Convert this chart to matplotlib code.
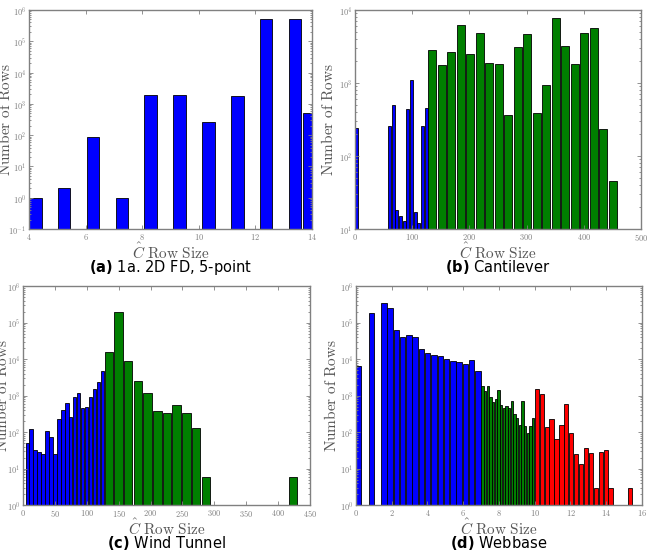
import numpy as np
import matplotlib
matplotlib.use("Agg")
import matplotlib.pyplot as plt
from matplotlib.ticker import FuncFormatter, LogLocator

plt.rcParams["mathtext.fontset"] = "cm"
plt.rcParams["font.family"] = ["DejaVu Serif"]

BLUE = "#0000FF"
GREEN = "#007F00"
RED = "#FF0000"
GRAY = "#808080"

# (a) 1a. 2D FD, 5-point : 20 bins over [4, 14.2]
a_bins = (4.0, 14.2, 20)
a_counts = [1, 0, 2, 0, 90, 0, 1, 0, 1900, 0, 1900, 0, 260, 0, 1730, 0, 5.3e5, 0, 5.3e5, 500]

# (b) Cantilever
b_blue_bins = (0.0, 128.0, 20)
b_blue = [244, 0, 0, 0, 0, 0, 0, 0, 0, 255, 493, 18, 15, 13, 440, 1106, 17, 12, 260, 449]
b_green_bins = (128.0, 460.0, 20)
b_green = [2870, 1790, 2670, 6300, 2480, 4900, 1890, 1850, 364, 3120,
           4650, 388, 945, 7690, 3190, 1830, 4900, 5730, 234, 45]

# (c) Wind Tunnel
c_blue_bins = (4.0, 128.0, 20)
c_blue = [49, 120, 33, 29, 25, 106, 75, 25, 229, 393,
          621, 260, 900, 1180, 445, 484, 940, 1514, 2390, 4740]
c_green_bins = (128.0, 432.0, 20)
c_green = [16000, 190000, 8700, 2450, 1150, 380, 325, 550, 340, 129,
           6, 0, 0, 0, 0, 0, 0, 0, 0, 6]

# (d) Webbase
d_blue_bins = (0.0, 7.02, 20)
d_blue = [6400, 0, 180000, 0, 350000, 255000, 62000, 40000, 47000, 40000,
          19000, 15000, 13000, 12300, 10000, 8700, 8300, 7100, 9400, 4700]
d_green_bins = (7.02, 10.0, 20)
d_green = [1800, 1350, 1800, 930, 650, 800, 1400, 550, 465, 525,
           445, 700, 320, 240, 160, 690, 150, 96, 146, 240]
d_red_bins = (10.0, 15.5, 20)
d_red = [1500, 1100, 140, 227, 63, 155, 573, 92, 25, 13,
         36, 27, 3, 29, 32, 3, 0, 0, 0, 3]

panels = [
    dict(pos=[0.0448, 0.5851, 0.4374, 0.3967], xlim=(4, 14), xticks=np.arange(4, 15, 2),
         ylim=(1e-1, 1e6), groups=[(a_bins, a_counts, BLUE)],
         caption=("(a)", "1a. 2D FD, 5-point"), ylab_px=16, cap_px=29),
    dict(pos=[0.5487, 0.5851, 0.4420, 0.3967], xlim=(0, 500), xticks=np.arange(0, 501, 100),
         ylim=(1e1, 1e4), groups=[(b_blue_bins, b_blue, BLUE), (b_green_bins, b_green, GREEN)],
         caption=("(b)", "Cantilever"), ylab_px=19, cap_px=29),
    dict(pos=[0.0355, 0.0851, 0.4436, 0.3967], xlim=(0, 450), xticks=np.arange(0, 451, 50),
         ylim=(1e0, 1e6), groups=[(c_blue_bins, c_blue, BLUE), (c_green_bins, c_green, GREEN)],
         caption=("(c)", "Wind Tunnel"), ylab_px=13, cap_px=29),
    dict(pos=[0.5502, 0.0851, 0.4420, 0.3967], xlim=(0, 16), xticks=np.arange(0, 17, 2),
         ylim=(1e0, 1e6), groups=[(d_blue_bins, d_blue, BLUE), (d_green_bins, d_green, GREEN),
                                  (d_red_bins, d_red, RED)],
         caption=("(d)", "Webbase"), ylab_px=17, cap_px=29),
]

W, H = 647, 552
fig = plt.figure(figsize=(W / 100, H / 100), dpi=100)

for p in panels:
    ax = fig.add_axes(p["pos"])
    for (lo, hi, n), counts, color in p["groups"]:
        counts = np.asarray(counts, dtype=float)
        w = (hi - lo) / n
        left = lo + w * np.arange(n)
        keep = counts > 0
        ax.bar(left[keep], counts[keep], width=w * 0.87, align="edge",
               color=color, edgecolor="black", linewidth=0.6)
    ax.set_yscale("log")
    ax.set_xlim(*p["xlim"])
    ax.set_ylim(*p["ylim"])
    ax.set_xticks(p["xticks"])
    ax.yaxis.set_major_locator(LogLocator(base=10, numticks=20))
    ax.yaxis.set_minor_locator(LogLocator(base=10, subs=np.arange(2, 10), numticks=20))
    ax.xaxis.set_major_formatter(FuncFormatter(lambda v, _: r"$%d$" % round(v)))
    ax.yaxis.set_major_formatter(FuncFormatter(lambda v, _: r"$10^{%d}$" % round(np.log10(v))))
    ax.tick_params(which="both", direction="in", top=True, right=True, colors=GRAY,
                   labelsize=6, width=0.6, pad=2)
    ax.tick_params(which="major", length=3)
    ax.tick_params(which="minor", length=1.5)
    for s in ax.spines.values():
        s.set_color(GRAY)
        s.set_linewidth(1.0)

    bb = ax.get_position()
    ax_w, ax_h = bb.width * W, bb.height * H
    ax.set_ylabel(r"$\mathrm{Number\ of\ Rows}$", fontsize=11, color="#555555")
    ax.yaxis.set_label_coords(-p["ylab_px"] / ax_w, 0.5)
    ax.set_xlabel(r"$\hat{C}\ \mathrm{Row\ Size}$", fontsize=11, color="#555555")
    ax.xaxis.set_label_coords(0.5, -13 / ax_h)

    tag, rest = p["caption"]
    fig.text(bb.x0 + bb.width / 2, bb.y0 - p["cap_px"] / H, r"$\mathbf{%s}$ %s" % (tag, rest),
             ha="center", va="top", fontsize=10.5, family=["DejaVu Sans"],
             math_fontfamily="dejavusans")

fig.savefig("out.png", dpi=100)
